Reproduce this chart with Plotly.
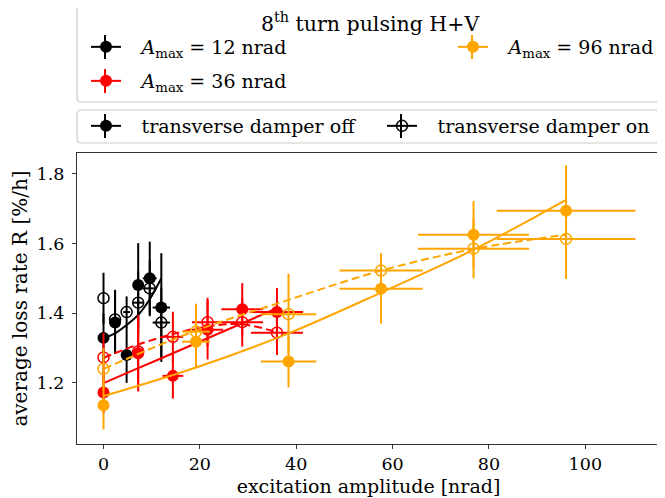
import plotly.graph_objects as go

# ---------------- data ----------------
x_12 = [0, 2.4, 4.8, 7.2, 9.6, 12.0]
ex_12 = [0, 0.36, 0.72, 1.08, 1.44, 1.8]
R_12_off = [1.329, 1.373, 1.280, 1.481, 1.500, 1.416]
eR_12_off = [0.07, 0.09, 0.08, 0.12, 0.105, 0.156]
R_12_on = [1.443, 1.382, 1.403, 1.430, 1.471, 1.373]
eR_12_on = [0.073, 0.085, 0.045, 0.09, 0.08, 0.10]
fit_12_off = [1.328, 1.342, 1.366, 1.395, 1.440, 1.500]

x_36 = [0, 7.2, 14.4, 21.6, 28.8, 36.0]
ex_36 = [0, 1.08, 2.16, 3.24, 4.32, 5.4]
R_36_off = [1.172, 1.285, 1.220, 1.352, 1.411, 1.403]
eR_36_off = [0.06, 0.11, 0.065, 0.085, 0.075, 0.069]
R_36_on = [1.273, 1.290, 1.332, 1.374, 1.374, 1.344]
eR_36_on = [0.07, 0.10, 0.072, 0.07, 0.07, 0.064]
fit_36_off = [1.199, 1.242, 1.285, 1.328, 1.371, 1.414]
fit_36_on = [1.272, 1.310, 1.340, 1.362, 1.368, 1.345]

x_96 = [0, 19.2, 38.4, 57.6, 76.8, 96.0]
ex_96 = [0, 2.88, 5.76, 8.64, 11.52, 14.4]
R_96_off = [1.136, 1.318, 1.261, 1.470, 1.625, 1.694]
eR_96_off = [0.07, 0.076, 0.074, 0.10, 0.097, 0.13]
R_96_on = [1.240, 1.347, 1.397, 1.522, 1.585, 1.613]
eR_96_on = [0.06, 0.08, 0.116, 0.05, 0.085, 0.115]
fit_96_off = [1.162, 1.244, 1.342, 1.459, 1.582, 1.725]
fit_96_on = [1.240, 1.350, 1.438, 1.522, 1.584, 1.625]

amp_labels = ["12", "36", "96"]
colors = ["#000000", "#ff0000", "#ffa500"]

x_ticks = [0, 20, 40, 60, 80, 100]
y_ticks = [1.2, 1.4, 1.6, 1.8]

FONT = "DejaVu Serif"

groups = [
    (x_12, ex_12, R_12_off, eR_12_off, R_12_on, eR_12_on, fit_12_off, None, colors[0]),
    (x_36, ex_36, R_36_off, eR_36_off, R_36_on, eR_36_on, fit_36_off, fit_36_on, colors[1]),
    (x_96, ex_96, R_96_off, eR_96_off, R_96_on, eR_96_on, fit_96_off, fit_96_on, colors[2]),
]

fig = go.Figure()

for xs, exs, roff, eoff, ron, eon, foff, fon, col in groups:
    fig.add_trace(go.Scatter(
        x=xs, y=foff, mode="lines", line=dict(color=col, width=2, shape="spline"),
        showlegend=False, hoverinfo="skip"))
    if fon is not None:
        fig.add_trace(go.Scatter(
            x=xs, y=fon, mode="lines",
            line=dict(color=col, width=2, dash="8px,4px", shape="spline"),
            showlegend=False, hoverinfo="skip"))
    fig.add_trace(go.Scatter(
        x=xs, y=roff, mode="markers",
        marker=dict(color=col, size=12, symbol="circle"),
        error_x=dict(type="data", array=exs, color=col, thickness=2, width=0),
        error_y=dict(type="data", array=eoff, color=col, thickness=2, width=0),
        showlegend=False))
    fig.add_trace(go.Scatter(
        x=xs, y=ron, mode="markers",
        marker=dict(color=col, size=11, symbol="circle-open", line=dict(width=1.5, color=col)),
        error_x=dict(type="data", array=exs, color=col, thickness=2, width=0),
        error_y=dict(type="data", array=eon, color=col, thickness=2, width=0),
        showlegend=False))

# ---------------- geometry (reference pixel frame) ----------------
W0, H0 = 665, 498          # reference picture
OFF = 8                    # page body margin of the html page
L, T = 77, 153             # plot area left/top in the reference
PR, PB = 660, 444          # plot area right/bottom in the reference
pw, ph = PR - L, PB - T
W, H = W0 - OFF, H0 - OFF


def py2paper(py):
    return (PB - py) / ph


def px2paper(px):
    return (px - L) / pw


LEG_FS = 19
SYM_DX = 19   # distance from legend left edge to symbol centre
GAP = "\u2002\u00a0"  # extra room between handle and label

# legend entries: (name, colour, symbol, legend id, marker x, row y)
legend_entries = [
    (f"{GAP}<i>A</i><sub>max</sub> = {amp_labels[0]} nrad", colors[0], "circle", "legend", 105, 47),
    (f"{GAP}<i>A</i><sub>max</sub> = {amp_labels[2]} nrad", colors[2], "circle", "legend4", 472, 47),
    (f"{GAP}<i>A</i><sub>max</sub> = {amp_labels[1]} nrad", colors[1], "circle", "legend3", 105, 81),
    (f"{GAP}transverse damper off", "#000000", "circle", "legend2", 105, 126),
    (f"{GAP}transverse damper on", "#000000", "circle-open", "legend5", 401, 126),
]

legend_layout = {}
shapes = []


def rounded_box(x0, x1, y0, y1, r=4):
    rx, ry = r / pw, r / ph
    return (f"M {x0+rx},{y1} L {x1-rx},{y1} Q {x1},{y1} {x1},{y1-ry} "
            f"L {x1},{y0+ry} Q {x1},{y0} {x1-rx},{y0} L {x0+rx},{y0} "
            f"Q {x0},{y0} {x0},{y0+ry} L {x0},{y1-ry} Q {x0},{y1} {x0+rx},{y1} Z")


shapes.append(dict(type="path", xref="paper", yref="paper",
                   path=rounded_box(0, 0.998, py2paper(102), py2paper(5)),
                   line=dict(color="#cccccc", width=1.2), fillcolor="white", layer="below"))
shapes.append(dict(type="path", xref="paper", yref="paper",
                   path=rounded_box(0, 0.998, py2paper(143), py2paper(110)),
                   line=dict(color="#cccccc", width=1.2), fillcolor="white", layer="below"))

for name, col, sym, lid, mx, my in legend_entries:
    mk = dict(color=col, size=12 if sym == "circle" else 11, symbol=sym)
    if sym != "circle":
        mk["line"] = dict(width=1.5, color=col)
    fig.add_trace(go.Scatter(
        x=[None], y=[None], mode="lines+markers", marker=mk,
        line=dict(color=col, width=2), name=name, legend=lid, showlegend=True))
    legend_layout[lid] = dict(
        x=px2paper(mx - SYM_DX), y=py2paper(my), xanchor="left", yanchor="middle",
        orientation="h", bgcolor="rgba(0,0,0,0)", borderwidth=0,
        font=dict(family=FONT, size=LEG_FS, color="#000000"),
        itemclick=False, itemdoubleclick=False)
    # vertical error-bar stroke of the legend handle
    shapes.append(dict(type="line", xref="paper", yref="paper",
                       x0=px2paper(mx), x1=px2paper(mx),
                       y0=py2paper(my - 12), y1=py2paper(my + 12),
                       line=dict(color=col, width=2), layer="above"))

fig.update_layout(
    width=W, height=H,
    margin=dict(l=L - OFF, r=W - (PR - OFF), t=T - OFF, b=H - (PB - OFF)),
    paper_bgcolor="white", plot_bgcolor="white",
    font=dict(family=FONT, size=17, color="#000000"),
    showlegend=True,
    shapes=shapes,
    annotations=[dict(text="8<sup>th</sup> turn pulsing H+V", xref="paper", yref="paper",
                      x=px2paper(370), y=py2paper(22), xanchor="center", yanchor="middle",
                      showarrow=False, font=dict(family=FONT, size=20.5, color="#000000"))],
    xaxis=dict(range=[-5.5, 115.5], tickvals=x_ticks, ticks="outside", ticklen=4,
               tickcolor="#333333", showline=True, linecolor="#333333", linewidth=1.2,
               mirror=True, showgrid=False, zeroline=False,
               title=dict(text="excitation amplitude [nrad]", standoff=6,
                          font=dict(family=FONT, size=19)),
               tickfont=dict(family=FONT, size=17.5)),
    yaxis=dict(range=[1.0245, 1.8595], tickvals=y_ticks, ticktext=["1.2", "1.4", "1.6", "1.8"],
               ticks="outside", ticklen=4, ticklabelstandoff=4,
               tickcolor="#333333", showline=True, linecolor="#333333", linewidth=1.2,
               mirror=True, showgrid=False, zeroline=False,
               title=dict(text="average loss rate R [%/h]", standoff=4,
                          font=dict(family=FONT, size=20)),
               tickfont=dict(family=FONT, size=17.5)),
    **legend_layout,
)

fig.write_html("out.html")
